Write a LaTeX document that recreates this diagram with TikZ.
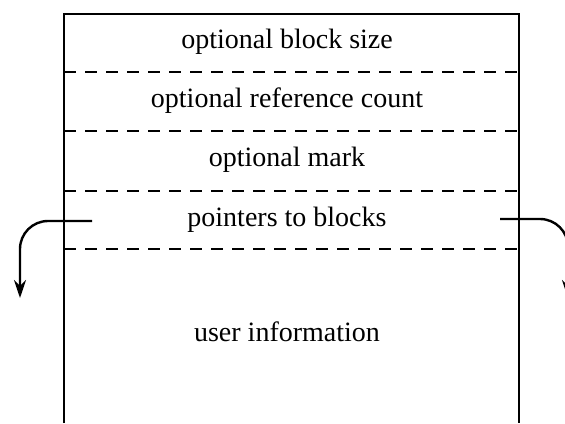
\documentclass[tikz,border=0pt]{standalone}
\usepackage{fontspec}
\setmainfont{Liberation Serif}
\usetikzlibrary{positioning,arrows.meta}

\begin{document}
\begin{tikzpicture}[x=0.5pt, y=-0.5pt,
    field/.style={font=\fontsize{14}{16}\selectfont},
    frame/.style={line width=1.4pt},
    sep/.style={line width=1.3pt, dash pattern=on 6pt off 4.5pt},
    link/.style={line width=1.2pt, rounded corners=14pt, -{Stealth[length=9pt,width=6pt]}}]
    \useasboundingbox (0,0) rectangle (565,423);

    % Block frame, open at the bottom
    \draw[frame] (64,423) -- (64,14) -- (519,14) -- (519,423);

    % Field separators
    \foreach \y in {72, 131, 191, 249} {
        \draw[sep] (64,\y) -- (519,\y);
    }

    % Fields
    \node[field] (size) at (287,42) {optional block size};
    \node[field] (count) at (287,101) {optional reference count};
    \node[field] (mark) at (287,160) {optional mark};
    \node[field] (ptrs) at (287,220) {pointers to blocks};
    \node[field] (info) at (287,332) {user information};

    % Pointer links
    \coordinate (lstart) at (92,221);
    \coordinate (lend) at (20,298);
    \coordinate (rstart) at (500,219);
    \coordinate (rend) at (568,298);
    \draw[link] (lstart) -- (lstart -| lend) -- (lend);
    \draw[link] (rstart) -- (rstart -| rend) -- (rend);
\end{tikzpicture}
\end{document}
